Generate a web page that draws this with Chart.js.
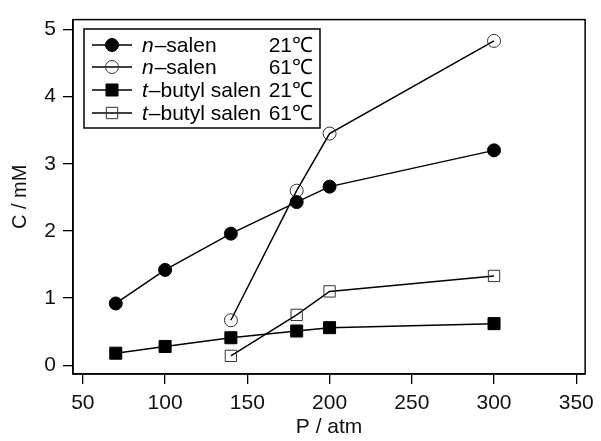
<!DOCTYPE html>
<html>
<head>
<meta charset="utf-8">
<script src="https://cdn.jsdelivr.net/npm/chart.js@4/dist/chart.umd.min.js"></script>
<style>
html,body{margin:0;padding:0;background:#fff;}
#wrap{width:601px;height:441px;position:relative;}
</style>
</head>
<body>
<div id="wrap"><canvas id="c" width="601" height="441"></canvas></div>
<script>
// Data
const pressureA = [70, 100, 140, 180, 200, 300];
const pressureB = [140, 180, 200, 300];
const nSalen21 = [0.92, 1.42, 1.96, 2.43, 2.66, 3.20];
const nSalen61 = [0.67, 2.60, 3.45, 4.83];
const tButyl21 = [0.18, 0.28, 0.41, 0.51, 0.56, 0.62];
const tButyl61 = [0.14, 0.75, 1.10, 1.33];
const xTicks = [50, 100, 150, 200, 250, 300, 350];
const yTicks = [0, 1, 2, 3, 4, 5];
const legendPrefix = ['n', 'n', 't', 't'];
const legendName = ['–salen', '–salen', '–butyl salen', '–butyl salen'];
const legendTemp = ['21℃', '61℃', '21℃', '61℃'];

const FONT = '"Liberation Sans", Arial, Helvetica, sans-serif';
const pts = (xs, ys) => xs.map((x, i) => ({x: x, y: ys[i]}));

const borderPlugin = {
  id: 'frame',
  afterDraw(chart) {
    const {ctx, chartArea: a} = chart;
    ctx.save();
    ctx.strokeStyle = '#000';
    ctx.lineWidth = 1.5;
    ctx.strokeRect(a.left, a.top, a.right - a.left, a.bottom - a.top);
    ctx.restore();
  }
};

const legendPlugin = {
  id: 'customLegend',
  afterDraw(chart) {
    const ctx = chart.ctx;
    const bx = 84, by = 29, bw = 236, bh = 99;
    const rows = [45, 67, 90, 113];
    ctx.save();
    ctx.fillStyle = '#fff';
    ctx.fillRect(bx, by, bw, bh);
    ctx.strokeStyle = '#000';
    ctx.lineWidth = 1.5;
    ctx.strokeRect(bx, by, bw, bh);
    chart.data.datasets.forEach((ds, i) => {
      const y = rows[i];
      ctx.strokeStyle = '#000';
      ctx.lineWidth = 1.5;
      ctx.beginPath();
      ctx.moveTo(92, y);
      ctx.lineTo(132, y);
      ctx.stroke();
      const style = {
        pointStyle: ds.pointStyle,
        radius: ds.pointRadius,
        borderWidth: ds.pointBorderWidth,
        rotation: 0
      };
      ctx.fillStyle = ds.pointBackgroundColor;
      ctx.strokeStyle = ds.pointBorderColor;
      ctx.lineWidth = ds.pointBorderWidth;
      Chart.helpers.drawPoint(ctx, style, 112, y);
      ctx.fillStyle = '#000';
      ctx.textBaseline = 'middle';
      ctx.textAlign = 'left';
      ctx.font = 'italic 21px ' + FONT;
      ctx.fillText(legendPrefix[i], 142, y + 1);
      const w = ctx.measureText(legendPrefix[i]).width;
      ctx.font = '21px ' + FONT;
      ctx.fillText(legendName[i], 142 + w + 1, y + 1);
      ctx.textAlign = 'right';
      ctx.fillText(legendTemp[i], 313, y + 1);
    });
    ctx.restore();
  }
};

new Chart(document.getElementById('c'), {
  type: 'line',
  data: {
    datasets: [
      {
        label: 'n-salen 21℃', data: pts(pressureA, nSalen21),
        borderColor: '#000', borderWidth: 1.5,
        pointStyle: 'circle', pointRadius: 6.5,
        pointBackgroundColor: '#000', pointBorderColor: '#000', pointBorderWidth: 1
      },
      {
        label: 'n-salen 61℃', data: pts(pressureB, nSalen61),
        borderColor: '#000', borderWidth: 1.5,
        pointStyle: 'circle', pointRadius: 6.5,
        pointBackgroundColor: 'rgba(0,0,0,0)', pointBorderColor: '#333', pointBorderWidth: 1
      },
      {
        label: 't-butyl salen 21℃', data: pts(pressureA, tButyl21),
        borderColor: '#000', borderWidth: 1.5,
        pointStyle: 'rect', pointRadius: 8.5,
        pointBackgroundColor: '#000', pointBorderColor: '#000', pointBorderWidth: 1
      },
      {
        label: 't-butyl salen 61℃', data: pts(pressureB, tButyl61),
        borderColor: '#000', borderWidth: 1.5,
        pointStyle: 'rect', pointRadius: 8,
        pointBackgroundColor: 'rgba(0,0,0,0)', pointBorderColor: '#333', pointBorderWidth: 1
      }
    ]
  },
  options: {
    responsive: false,
    animation: false,
    layout: {padding: {top: 14, right: 13, left: 0, bottom: 0}},
    plugins: {legend: {display: false}, tooltip: {enabled: false}},
    scales: {
      x: {
        type: 'linear', min: 44, max: 355.4,
        afterBuildTicks: s => { s.ticks = xTicks.map(v => ({value: v})); },
        afterFit: s => { s.height = 67; },
        grid: {drawOnChartArea: false, tickLength: 10, color: '#000', lineWidth: 1.3},
        border: {display: true, color: '#000', width: 1.5},
        ticks: {color: '#111', font: {family: FONT, size: 21}, padding: 7, maxRotation: 0},
        title: {display: true, text: 'P / atm', color: '#111', font: {family: FONT, size: 21}, padding: {top: 0, bottom: 1}}
      },
      y: {
        type: 'linear', min: -0.13, max: 5.147,
        afterBuildTicks: s => { s.ticks = yTicks.map(v => ({value: v})); },
        afterFit: s => { s.width = 73; },
        grid: {drawOnChartArea: false, tickLength: 10, color: '#000', lineWidth: 1.3},
        border: {display: true, color: '#000', width: 1.5},
        ticks: {color: '#111', font: {family: FONT, size: 21}, padding: 7},
        title: {display: true, text: 'C / mM', color: '#111', font: {family: FONT, size: 20}, padding: {top: 8, bottom: 0}}
      }
    }
  },
  plugins: [borderPlugin, legendPlugin]
});
</script>
</body>
</html>
